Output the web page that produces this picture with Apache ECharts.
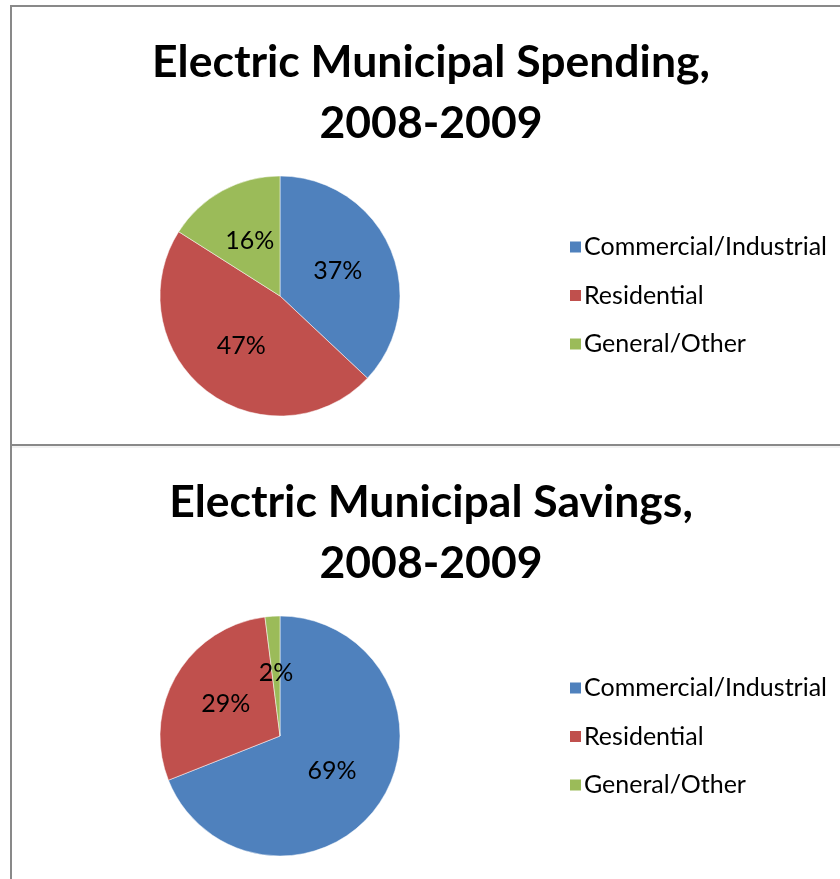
<!DOCTYPE html>
<html><head><meta charset="utf-8">
<script src="https://cdn.jsdelivr.net/npm/echarts@6/dist/echarts.min.js"></script>
<style>html,body{margin:0;padding:0;background:#fff}#c{width:840px;height:879px}</style>
</head><body><div id="c"></div>
<script>
const categories = ['Commercial/Industrial', 'Residential', 'General/Other'];
const spendingValues = [37, 47, 16];
const savingsValues = [69, 29, 2];
const titles = ['Electric Municipal Spending,\n2008-2009', 'Electric Municipal Savings,\n2008-2009'];
const colors = ['#4F81BD', '#C0504D', '#9BBB59'];

const FONT = 'Lato, "Open Sans", sans-serif';
const chart = echarts.init(document.getElementById('c'), null, {renderer: 'canvas'});

function pie(values, cy) {
  return {
    type: 'pie', radius: 120, center: [280, cy], startAngle: 90, clockwise: true,
    silent: true,
    data: categories.map((n, i) => ({name: n, value: values[i]})),
    label: {position: 'inside', formatter: '{c}%', color: '#000', fontFamily: FONT, fontSize: 25},
    labelLine: {show: false},
    itemStyle: {borderColor: '#fff', borderWidth: 0.5},
    emphasis: {disabled: true}
  };
}
function legend(top) {
  return {
    orient: 'vertical', left: 563, top: top, icon: 'rect', itemWidth: 13, itemHeight: 13,
    itemGap: 23.5, selectedMode: false, data: categories,
    textStyle: {fontFamily: FONT, fontSize: 25, lineHeight: 25, color: '#000', padding: [0,0,0,-3]}
  };
}
function title(text, top) {
  return {
    text: text, left: 426, top: top, textAlign: 'center',
    textStyle: {fontFamily: FONT, fontWeight: 'bold', fontSize: 44.5, lineHeight: 61, color: '#000'}
  };
}
const lineStyle = {stroke: '#898989', lineWidth: 2};
chart.setOption({
  animation: false,
  color: colors,
  title: [title(titles[0], 27), title(titles[1], 467)],
  legend: [legend(229.5), legend(670.5)],
  series: [pie(spendingValues, 296), pie(savingsValues, 736)],
  graphic: [
    {type: 'line', shape: {x1: 11, y1: 5, x2: 11, y2: 879}, style: lineStyle, silent: true},
    {type: 'line', shape: {x1: 10, y1: 6, x2: 840, y2: 6}, style: lineStyle, silent: true},
    {type: 'line', shape: {x1: 10, y1: 445, x2: 840, y2: 445}, style: lineStyle, silent: true},
    {type: 'line', shape: {x1: 12, y1: 447, x2: 840, y2: 447}, style: {stroke: '#e6e6e6', lineWidth: 1}, silent: true}
  ]
});
</script></body></html>
